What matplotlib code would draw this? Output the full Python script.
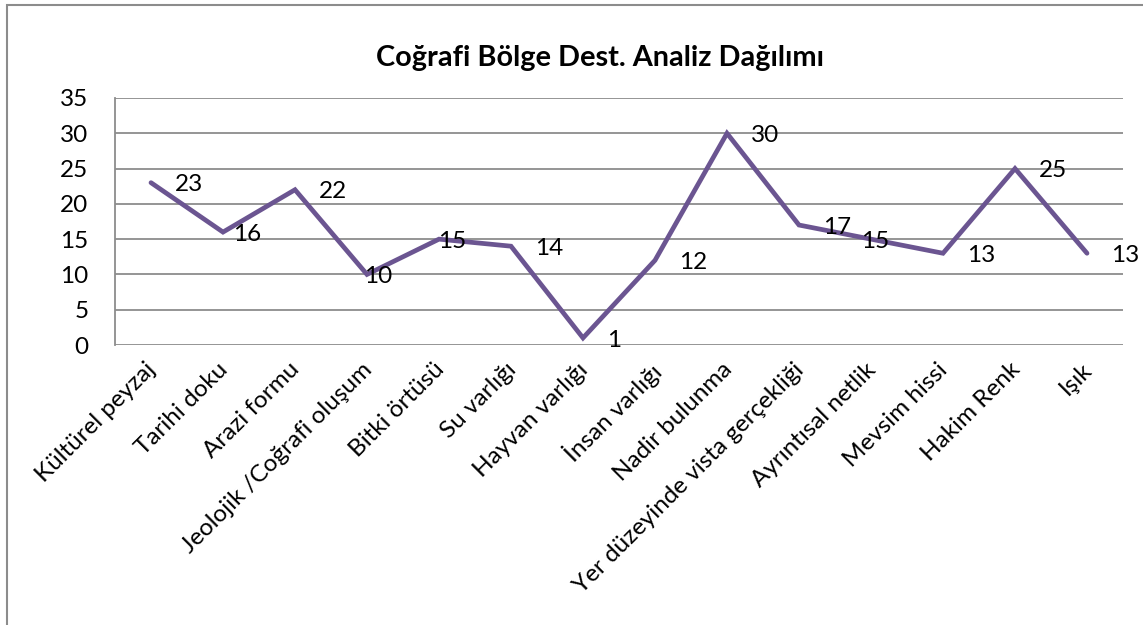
'''
    Line chart of the regional analysis distribution (Coğrafi Bölge Dest.).
    One point per criterion, value labels to the right of each point.
'''

import numpy as np
import matplotlib
matplotlib.use('Agg')
import matplotlib.pyplot as plt
import matplotlib.transforms as mtrans
from matplotlib.patches import Rectangle

plt.rcParams['font.family'] = ['Lato', 'DejaVu Sans']

_OUT_PNG = 'out.png'

# Chart data
categories = ['Kültürel peyzaj', 'Tarihi doku', 'Arazi formu',
              'Jeolojik /Coğrafi oluşum', 'Bitki örtüsü', 'Su varlığı',
              'Hayvan varlığı', 'İnsan varlığı', 'Nadir bulunma',
              'Yer düzeyinde vista gerçekliği', 'Ayrıntısal netlik',
              'Mevsim hissi', 'Hakim Renk', 'Işık']
values = [23, 16, 22, 10, 15, 14, 1, 12, 30, 17, 15, 13, 25, 13]
y_ticks = [0, 5, 10, 15, 20, 25, 30, 35]
title = 'Coğrafi Bölge Dest. Analiz Dağılımı'

_LINE_COLOR = '#6b5591'
_GRID_COLOR = '#8c8c8c'
_FS = 17.5
# Excel moved a few labels to dodge the line; x offsets in points
_LABEL_DX = {1: 7, 3: -2, 4: -1, 10: -7}


def plot_line(save_as=None):
    fig = plt.figure(figsize=(11.43, 6.25), dpi=100)
    ax = fig.add_axes([115/1143, 1-345/625, (1123-115)/1143, (345-98)/625])
    xlocs = np.arange(len(categories))
    ax.plot(xlocs, values, color=_LINE_COLOR, lw=3.4,
            solid_joinstyle='miter', solid_capstyle='round', zorder=3)
    for i, v in enumerate(values):
        dx = _LABEL_DX.get(i, 17)
        ax.annotate(str(v), (i, v), xytext=(dx, -1.5), textcoords='offset points',
                    ha='left', va='center', fontsize=_FS, color='black', zorder=4)
    # Trimmings:
    ax.set_xlim(-0.5, len(categories) - 0.5)
    ax.set_ylim(0, 35)
    ax.set_yticks(y_ticks)
    ax.yaxis.grid(True, color=_GRID_COLOR, lw=1.3)
    ax.set_axisbelow(True)
    for s in ['top', 'right', 'bottom']:
        ax.spines[s].set_visible(False)
    ax.spines['left'].set_color(_GRID_COLOR)
    ax.spines['left'].set_linewidth(1.3)
    ax.tick_params(axis='both', length=0, labelsize=_FS)
    ax.tick_params(axis='y', pad=19)
    ax.set_xticks(xlocs)
    ax.set_xticklabels(categories, rotation=45, ha='right', va='top',
                       rotation_mode='anchor')
    ax.tick_params(axis='x', pad=10)
    # Nudge rotated labels a little left, as Excel places them
    shift = mtrans.ScaledTranslation(-6/100, 0, fig.dpi_scale_trans)
    for lab in ax.get_xticklabels():
        lab.set_transform(lab.get_transform() + shift)
    fig.text(600/1143, 1-58/625, title, ha='center', va='center',
             fontsize=20.8, fontweight='bold')
    # Chart-area border
    fig.patches.append(Rectangle((7/1143, -0.1), 1.1, 1-5/625+0.1,
                                 transform=fig.transFigure, fill=False,
                                 edgecolor='#8c8c8c', lw=1.5))
    fig.savefig(save_as, dpi=100)


if __name__ == '__main__':
    plot_line(_OUT_PNG)
